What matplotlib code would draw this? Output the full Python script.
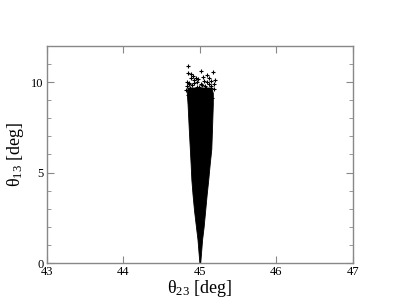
import matplotlib
matplotlib.use("Agg")
import matplotlib.pyplot as plt
from matplotlib.ticker import MultipleLocator

# Envelope of the dense band of points (theta13 vs theta23 range)
theta13_env = [0.0, 0.5, 1.3, 2.0, 2.9, 3.8, 4.6, 5.5, 6.3, 7.5, 8.8, 9.4, 9.7]
theta23_lo = [44.995, 44.985, 44.97, 44.95, 44.925, 44.905, 44.89, 44.88, 44.87, 44.855, 44.84, 44.83, 44.84]
theta23_hi = [45.005, 45.015, 45.03, 45.05, 45.07, 45.09, 45.11, 45.13, 45.15, 45.16, 45.17, 45.17, 45.15]

# Sparse individual points near the top of the distribution
top_theta23 = [44.85, 44.84, 45.01, 45.17, 45.09, 44.91, 45.20, 44.88, 44.95, 45.04,
               45.12, 45.15, 44.83, 44.86, 44.93, 44.98, 45.06, 45.10, 45.18, 44.90,
               45.02, 45.14, 44.87, 44.96, 45.08, 45.19, 44.82, 45.00, 45.13, 44.94,
               44.84, 45.05, 45.16, 44.89, 45.11, 44.92, 45.03, 44.86, 45.07, 44.99,
               45.15, 44.83, 44.97, 45.12, 44.88]
top_theta13 = [10.87, 10.50, 10.60, 10.54, 10.39, 10.35, 10.11, 10.20, 10.25, 10.30,
               10.22, 10.05, 10.00, 9.95, 10.10, 10.15, 10.05, 9.98, 9.90, 9.85,
               9.92, 9.80, 9.70, 9.75, 9.65, 9.60, 9.55, 9.50, 9.45, 9.40,
               9.30, 9.20, 9.10, 9.00, 8.90, 9.95, 9.85, 9.90, 9.78, 9.72,
               9.68, 9.80, 10.02, 9.88, 10.42]

xticks = [43, 44, 45, 46, 47]
yticks = [0, 5, 10]

fig = plt.figure(figsize=(3.98, 3.08), dpi=100)
ax = fig.add_axes([0.117, 0.146, 0.770, 0.705])

ax.fill_betweenx(theta13_env, theta23_lo, theta23_hi, color="black", lw=0.6, zorder=2)
ax.scatter(top_theta23, top_theta13, marker="+", s=12, color="black", linewidths=0.8, zorder=3)

ax.set_xlim(43, 47)
ax.set_ylim(0, 12)
ax.set_xticks(xticks)
ax.set_yticks(yticks)
ax.yaxis.set_minor_locator(MultipleLocator(1))

serif = ["Liberation Serif", "DejaVu Serif"]
for lab in ax.get_xticklabels() + ax.get_yticklabels():
    lab.set_fontfamily(serif)
    lab.set_fontsize(9)

ax.tick_params(which="both", direction="in", top=True, right=True, color="#888888",
               labelcolor="black")
ax.tick_params(which="major", length=5, width=0.8, pad=2)
ax.tick_params(which="minor", length=3, width=0.6)
for sp in ax.spines.values():
    sp.set_color("#888888")
    sp.set_linewidth(1.0)

ax.set_xlabel(r"$\mathregular{\theta_{23}}$ [deg]", family=serif, fontsize=13, labelpad=0)
ax.set_ylabel(r"$\mathregular{\theta_{13}}$ [deg]", family=serif, fontsize=13, labelpad=4)

fig.savefig("out.png", dpi=100)
